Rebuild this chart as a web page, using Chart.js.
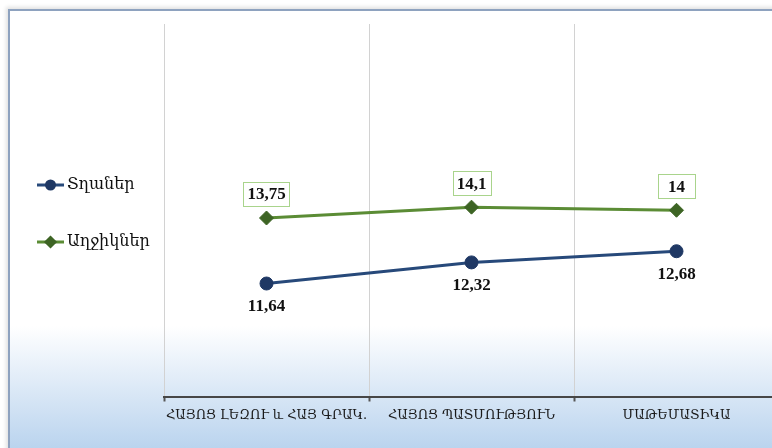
<!DOCTYPE html>
<html>
<head>
<meta charset="utf-8">
<script src="https://cdn.jsdelivr.net/npm/chart.js@4.4.1/dist/chart.umd.min.js"></script>
<style>
  html, body { margin:0; padding:0; width:772px; height:448px; overflow:hidden; background:#ffffff; }
  #frame { position:absolute; left:8px; top:9px; width:800px; height:460px;
    border-left:2px solid #8EA2BF; border-top:2px solid #8EA2BF;
    box-shadow:-2px -2px 4px rgba(0,0,0,0.12);
    background:linear-gradient(to bottom, #ffffff 0px, #ffffff 315px, #B9D3EE 439px, #B9D3EE 460px); }
  #c { position:absolute; left:0; top:0; }
</style>
</head>
<body>
<div id="frame"></div>
<canvas id="c" width="800" height="448"></canvas>
<script>
const categories = ["ՀԱՅՈՑ ԼԵԶՈՒ և ՀԱՅ ԳՐԱԿ.", "ՀԱՅՈՑ ՊԱՏՄՈՒԹՅՈՒՆ", "ՄԱԹԵՄԱՏԻԿԱ"];
const seriesNames = ["Տղաներ", "Աղջիկներ"];
const boys = [11.64, 12.32, 12.68];
const girls = [13.75, 14.1, 14];

const ARM_FONT = "'DejaVu Serif', serif";
const NUM_FONT = "'Liberation Serif', serif";

const legendPlugin = {
  id: 'sideLegend',
  afterDraw(chart) {
    const ctx = chart.ctx;
    chart.data.datasets.forEach((ds, i) => {
      const y = 185 + i * 57;
      ctx.save();
      ctx.strokeStyle = ds.borderColor;
      ctx.lineWidth = 3;
      ctx.beginPath(); ctx.moveTo(37, y); ctx.lineTo(64, y); ctx.stroke();
      ctx.fillStyle = ds.pointBackgroundColor;
      ctx.strokeStyle = ds.pointBackgroundColor;
      Chart.helpers.drawPoint(ctx, { pointStyle: ds.pointStyle, radius: ds.pointStyle === 'circle' ? 4 : 4.5, borderWidth: 1, rotation: 0 }, 50.5, y);
      ctx.fillStyle = '#111111';
      ctx.font = "16px " + ARM_FONT;
      ctx.textBaseline = 'middle';
      ctx.textAlign = 'left';
      ctx.fillText(ds.label, 67, y);
      ctx.restore();
    });
  }
};

const valueLabelPlugin = {
  id: 'valueLabels',
  afterDatasetsDraw(chart) {
    const ctx = chart.ctx;
    chart.data.datasets.forEach((ds, di) => {
      const meta = chart.getDatasetMeta(di);
      meta.data.forEach((pt, j) => {
        const txt = String(ds.data[j]).replace('.', ',');
        ctx.save();
        ctx.font = "bold 17px " + NUM_FONT;
        ctx.textAlign = 'center';
        ctx.textBaseline = 'middle';
        if (ds.labelAbove) {
          const cy = pt.y - 24;
          const w = Math.max(ctx.measureText(txt).width + 8, 37);
          const h = 24;
          ctx.fillStyle = '#ffffff';
          ctx.fillRect(pt.x - w / 2, cy - h / 2, w, h);
          ctx.strokeStyle = '#A9D48C';
          ctx.lineWidth = 1;
          ctx.strokeRect(Math.round(pt.x - w / 2) + 0.5, Math.round(cy - h / 2) + 0.5, Math.round(w), h);
          ctx.fillStyle = '#111111';
          ctx.fillText(txt, pt.x, cy + 1);
        } else {
          ctx.fillStyle = '#111111';
          ctx.fillText(txt, pt.x, pt.y + 23);
        }
        ctx.restore();
      });
    });
  }
};

new Chart(document.getElementById('c'), {
  type: 'line',
  data: {
    labels: categories,
    datasets: [
      { label: seriesNames[0], data: boys, borderColor: '#27497A', borderWidth: 3,
        pointBackgroundColor: '#1F3864', pointBorderColor: '#1F3864', pointStyle: 'circle',
        pointRadius: 6.5, pointBorderWidth: 1, tension: 0, labelAbove: false },
      { label: seriesNames[1], data: girls, borderColor: '#5B8C35', borderWidth: 3,
        pointBackgroundColor: '#3D6424', pointBorderColor: '#3D6424', pointStyle: 'rectRot',
        pointRadius: 7, pointBorderWidth: 1, tension: 0, labelAbove: true }
    ]
  },
  options: {
    responsive: false,
    animation: false,
    layout: { padding: { left: 164, right: 21, top: 24, bottom: 0 } },
    plugins: { legend: { display: false }, tooltip: { enabled: false } },
    scales: {
      x: {
        offset: true,
        grid: { offset: true, color: '#D2D2D2', lineWidth: 1, tickColor: '#555555', tickLength: 5, tickWidth: 2 },
        border: { display: true, color: '#474747', width: 2 },
        ticks: { color: '#1a1a1a', font: { family: ARM_FONT, size: 13 }, padding: 6, maxRotation: 0, autoSkip: false },
        afterFit(s) { s.height = 51.5; }
      },
      y: { display: false, min: 8, max: 20 }
    }
  },
  plugins: [legendPlugin, valueLabelPlugin]
});
</script>
</body>
</html>
